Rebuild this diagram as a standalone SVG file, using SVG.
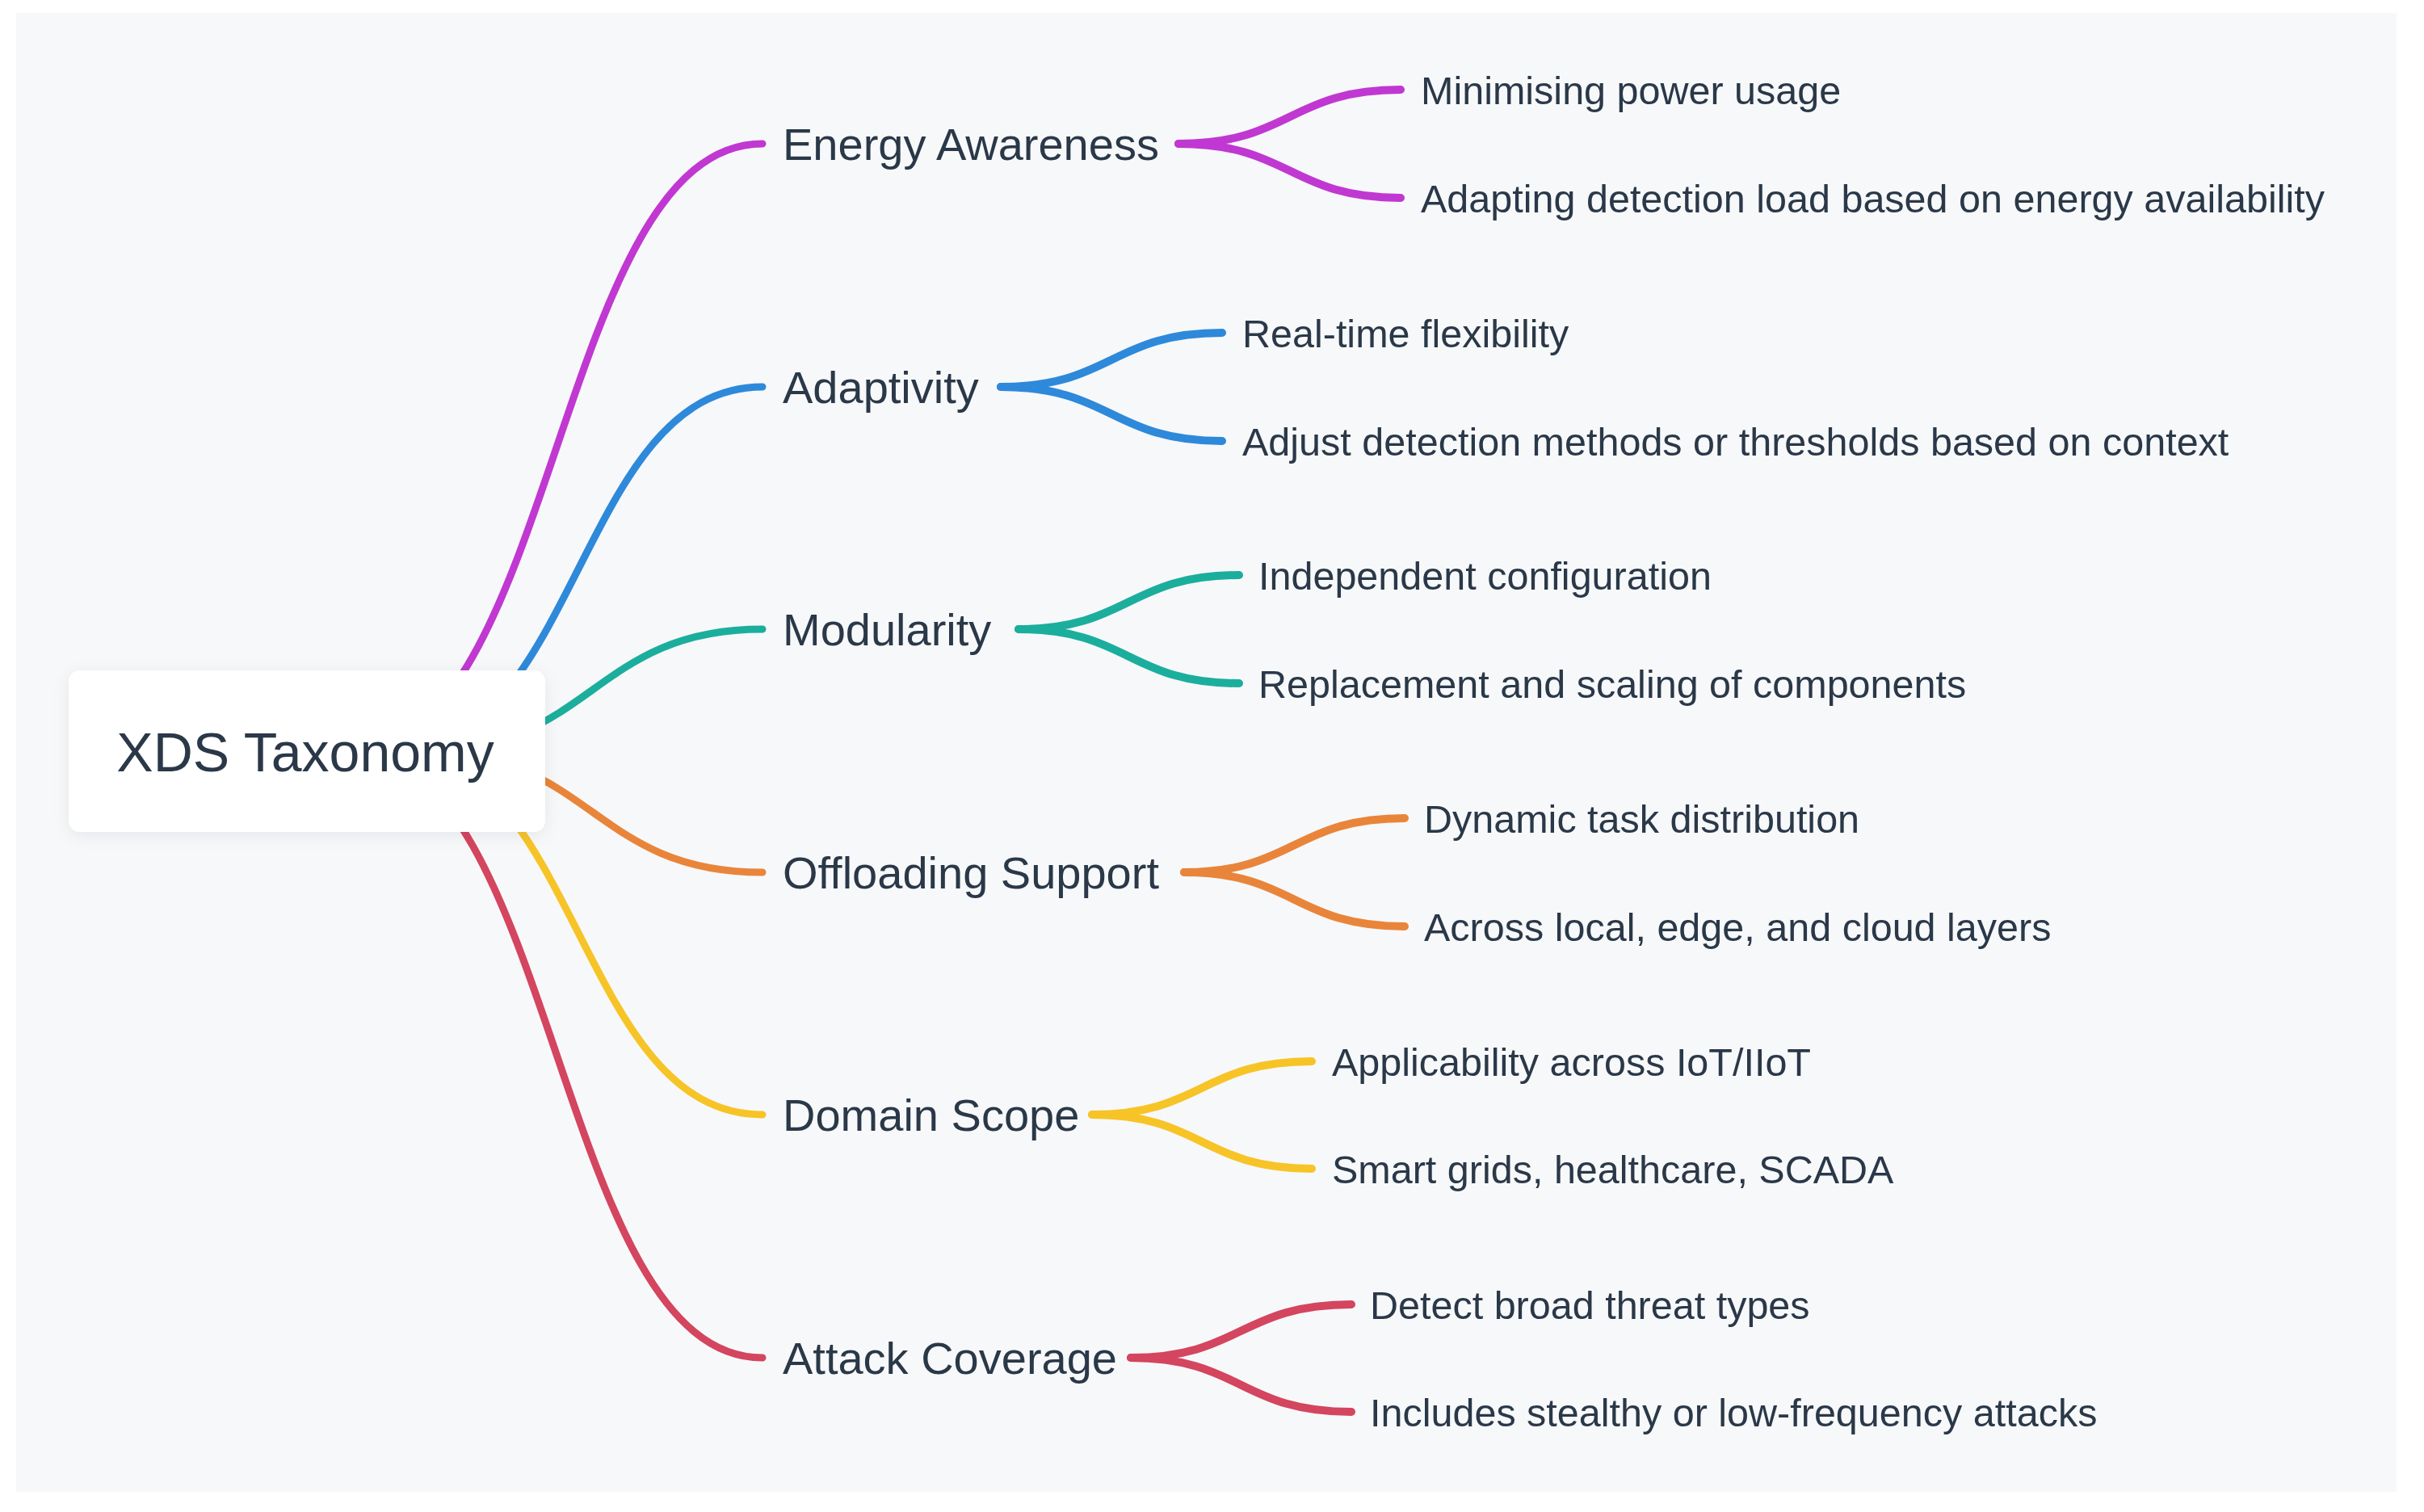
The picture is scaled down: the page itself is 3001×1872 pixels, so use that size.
<svg xmlns="http://www.w3.org/2000/svg" width="3001" height="1872" viewBox="0 0 3001 1872">
  <defs>
    <style>
      .bg { fill: #f7f8fa; }
      .link { fill: none; stroke-linecap: round; }
      .l1 { stroke-width: 9; }
      .l2 { stroke-width: 10; }
      .c-mag { stroke: #c038d1; }
      .c-blue { stroke: #2e89da; }
      .c-teal { stroke: #1bae9d; }
      .c-orange { stroke: #e9853a; }
      .c-yellow { stroke: #f7c427; }
      .c-red { stroke: #d4455f; }
      text { font-family: "Liberation Sans", Arial, sans-serif; fill: #2a3848; }
      .root-t { font-size: 68px; }
      .t1 { font-size: 56px; }
      .t2 { font-size: 48.5px; }
    </style>
    <filter id="shadow" x="-10%" y="-20%" width="120%" height="140%">
      <feDropShadow dx="0" dy="4" stdDeviation="10" flood-color="#1e2a3a" flood-opacity="0.07"/>
    </filter>
  </defs>

  <rect x="0" y="0" width="3001" height="1872" fill="#ffffff"/>
  <rect class="bg" x="20" y="16" width="2947" height="1831"/>

  <g id="connectors">
    <!-- root to level 1 -->
    <path class="link l1 c-mag" d="M434,930 C689,930 689,178 944,178"/>
    <path class="link l1 c-blue" d="M488,930 C716,930 716,479 944,479"/>
    <path class="link l1 c-teal" d="M522,930 C733,930 733,779 944,779"/>
    <path class="link l1 c-orange" d="M522,930 C733,930 733,1080 944,1080"/>
    <path class="link l1 c-yellow" d="M488,930 C716,930 716,1380 944,1380"/>
    <path class="link l1 c-red" d="M434,930 C689,930 689,1681 944,1681"/>

    <!-- Energy Awareness children -->
    <path class="link l2 c-mag" d="M1459,178 C1597,178 1597,111 1734,111"/>
    <path class="link l2 c-mag" d="M1459,178 C1597,178 1597,245 1734,245"/>
    <!-- Adaptivity children -->
    <path class="link l2 c-blue" d="M1239,479 C1376,479 1376,412 1513,412"/>
    <path class="link l2 c-blue" d="M1239,479 C1376,479 1376,546 1513,546"/>
    <!-- Modularity children -->
    <path class="link l2 c-teal" d="M1261,779 C1397,779 1397,712 1534,712"/>
    <path class="link l2 c-teal" d="M1261,779 C1397,779 1397,846 1534,846"/>
    <!-- Offloading Support children -->
    <path class="link l2 c-orange" d="M1466,1080 C1602,1080 1602,1013 1739,1013"/>
    <path class="link l2 c-orange" d="M1466,1080 C1602,1080 1602,1147 1739,1147"/>
    <!-- Domain Scope children -->
    <path class="link l2 c-yellow" d="M1352,1380 C1488,1380 1488,1314 1624,1314"/>
    <path class="link l2 c-yellow" d="M1352,1380 C1488,1380 1488,1447 1624,1447"/>
    <!-- Attack Coverage children -->
    <path class="link l2 c-red" d="M1400,1681 C1536,1681 1536,1615 1673,1615"/>
    <path class="link l2 c-red" d="M1400,1681 C1536,1681 1536,1748 1673,1748"/>
  </g>

  <g id="root">
    <rect x="85" y="830" width="590" height="200" rx="14" ry="14" fill="#ffffff" filter="url(#shadow)"/>
    <text class="root-t" x="378" y="955" text-anchor="middle">XDS Taxonomy</text>
  </g>

  <g id="energy-awareness">
    <text class="t1" x="969" y="198">Energy Awareness</text>
  </g>
  <g id="energy-1"><text class="t2" x="1759" y="129">Minimising power usage</text></g>
  <g id="energy-2"><text class="t2" x="1759" y="263">Adapting detection load based on energy availability</text></g>

  <g id="adaptivity">
    <text class="t1" x="969" y="499">Adaptivity</text>
  </g>
  <g id="adaptivity-1"><text class="t2" x="1538" y="430">Real-time flexibility</text></g>
  <g id="adaptivity-2"><text class="t2" x="1538" y="564">Adjust detection methods or thresholds based on context</text></g>

  <g id="modularity">
    <text class="t1" x="969" y="799">Modularity</text>
  </g>
  <g id="modularity-1"><text class="t2" x="1558" y="730">Independent configuration</text></g>
  <g id="modularity-2"><text class="t2" x="1558" y="864">Replacement and scaling of components</text></g>

  <g id="offloading-support">
    <text class="t1" x="969" y="1100">Offloading Support</text>
  </g>
  <g id="offloading-1"><text class="t2" x="1763" y="1031">Dynamic task distribution</text></g>
  <g id="offloading-2"><text class="t2" x="1763" y="1165">Across local, edge, and cloud layers</text></g>

  <g id="domain-scope">
    <text class="t1" x="969" y="1400">Domain Scope</text>
  </g>
  <g id="domain-1"><text class="t2" x="1649" y="1332">Applicability across IoT/IIoT</text></g>
  <g id="domain-2"><text class="t2" x="1649" y="1465">Smart grids, healthcare, SCADA</text></g>

  <g id="attack-coverage">
    <text class="t1" x="969" y="1701">Attack Coverage</text>
  </g>
  <g id="attack-1"><text class="t2" x="1696" y="1633">Detect broad threat types</text></g>
  <g id="attack-2"><text class="t2" x="1696" y="1766">Includes stealthy or low-frequency attacks</text></g>
</svg>
